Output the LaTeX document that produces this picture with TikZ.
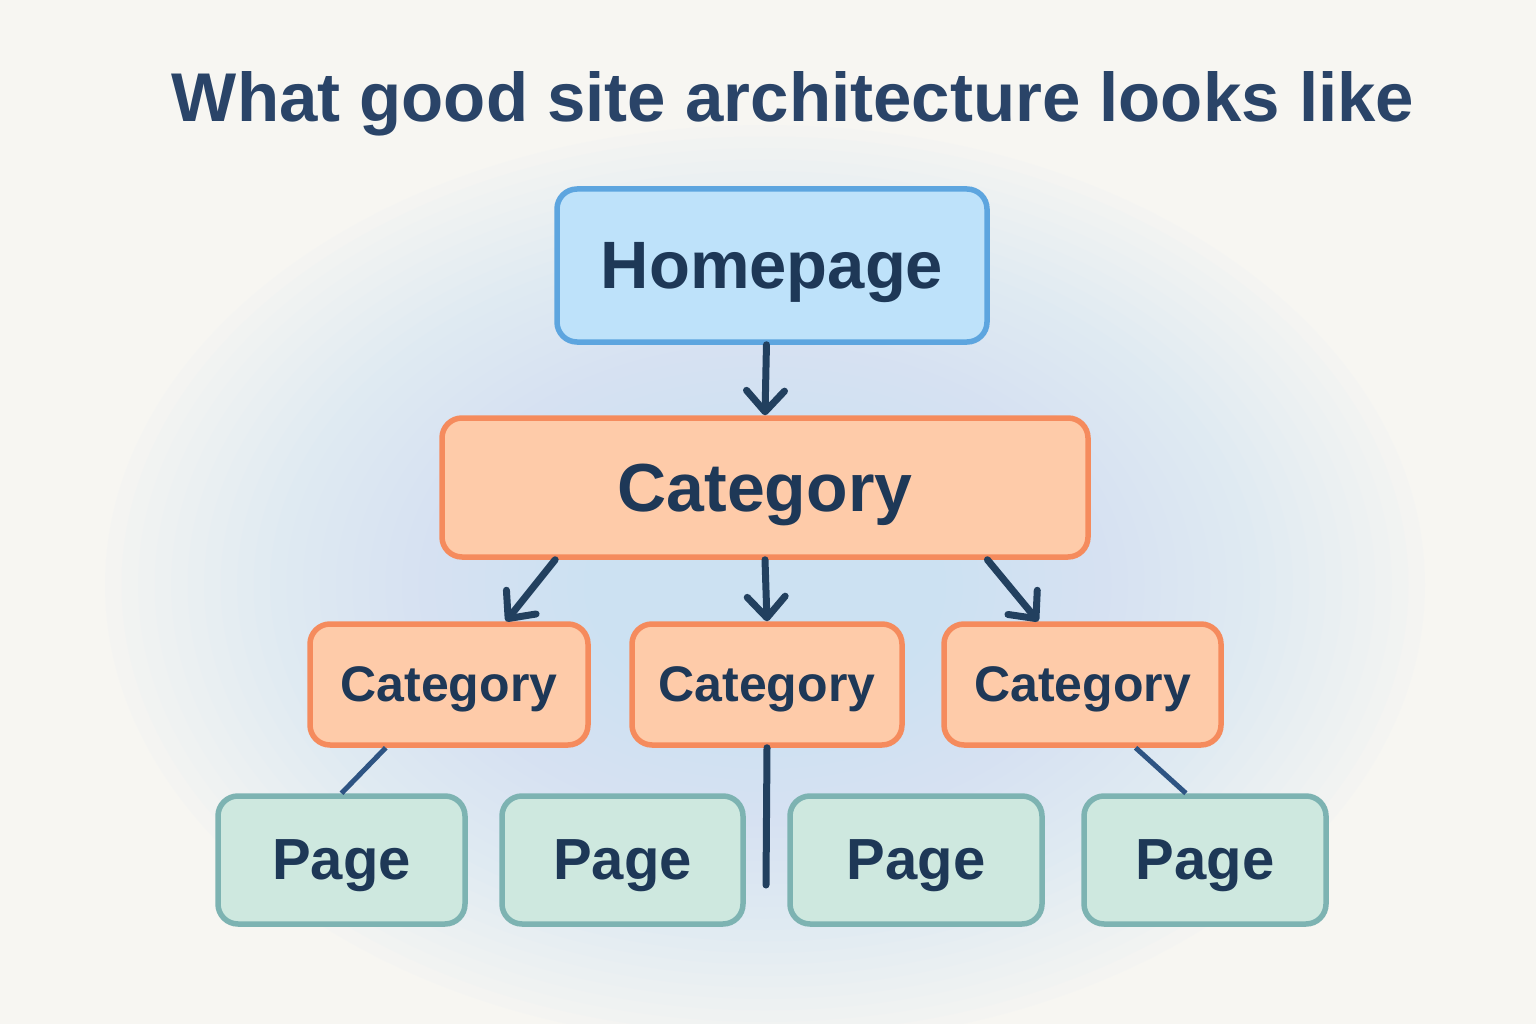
\documentclass[tikz,border=0pt]{standalone}
\usepackage{fontspec}
\setmainfont{Liberation Sans}
\usepackage{xcolor}
\usetikzlibrary{arrows.meta}

\definecolor{bgc}{HTML}{F7F6F2}
\definecolor{glowc}{HTML}{CCE1F3}
\definecolor{inkc}{HTML}{1E3857}
\definecolor{titlec}{HTML}{2A4468}
\definecolor{arrowc}{HTML}{22405F}
\definecolor{linkc}{HTML}{2E5483}
\definecolor{homefill}{HTML}{BEE2FA}
\definecolor{homedraw}{HTML}{5DA5DF}
\definecolor{catfill}{HTML}{FECBA9}
\definecolor{catdraw}{HTML}{F58B5D}
\definecolor{pagefill}{HTML}{CEE8DF}
\definecolor{pagedraw}{HTML}{7DB3B2}

\begin{document}
\begin{tikzpicture}[x=1pt, y=-1pt]
        % ================= 样式定义 =================
        \tikzset{
            % 所有方框的共同样式
            box/.style={draw, line width=5.5pt, rounded corners=20pt, text=inkc, text depth=0pt, inner sep=0pt},
            % 首页
            homebox/.style={box, draw=homedraw, fill=homefill, font=\bfseries\fontsize{67}{80}\selectfont, minimum width=430pt, minimum height=153pt},
            % 分类
            catbox/.style={box, draw=catdraw, fill=catfill, font=\bfseries\fontsize{68}{80}\selectfont, minimum width=646pt, minimum height=139pt},
            % 子分类
            subcat/.style={box, draw=catdraw, fill=catfill, font=\bfseries\fontsize{50}{60}\selectfont, minimum height=121pt},
            % 页面
            pagebox/.style={box, draw=pagedraw, fill=pagefill, font=\bfseries\fontsize{58}{70}\selectfont, minimum height=128pt},
            % 箭头
            arrow_edge/.style={line width=7pt, arrowc, line cap=round, -{Straight Barb[length=21pt, width=38pt, round]}},
            % 普通连线
            link_edge/.style={line width=5pt, linkc}
        }

        % ================= 1. 背景 =================
        \useasboundingbox (0,0) rectangle (1536,1024);
        \fill[bgc] (0,0) rectangle (1536,1024);
        % 蓝色光晕:一层层半透明椭圆
        \foreach \k in {1,...,40}
            \fill[glowc, opacity=0.05] (765,585) ellipse ({16.5*\k} and {11.5*\k});

        % ================= 2. 标题 =================
        \node[anchor=base, text=titlec, font=\bfseries\fontsize{69}{80}\selectfont] (title) at (793,122) {What good site architecture looks like};

        % ================= 3. 方框 =================
        \node[homebox] (home) at (772,265.5) {Homepage};
        \node[catbox] (cat) at (765,487.5) {Category};

        \node[subcat, minimum width=278pt] (lc) at (449,684.5) {Category};
        \node[subcat, minimum width=270pt] (mc) at (767,684.5) {Category};
        \node[subcat, minimum width=277pt] (rc) at (1082.5,684.5) {Category};

        \node[pagebox, minimum width=247pt] (p1) at (341.5,860) {Page};
        \node[pagebox, minimum width=241pt] (p2) at (622.5,860) {Page};
        \node[pagebox, minimum width=252pt] (p3) at (916,860) {Page};
        \node[pagebox, minimum width=242pt] (p4) at (1205,860) {Page};

        % ================= 4. 连线 =================
        \draw[arrow_edge] (home.266) -- (cat.north);

        \draw[arrow_edge] (cat.199) -- (lc.48);
        \draw[arrow_edge] (cat.south) -- (mc.north);
        \draw[arrow_edge] (cat.342) -- (rc.125);

        % --- 子分类到页面 ---
        \coordinate (mid_end) at (766,885);
        \draw[link_edge] (lc.225) -- (p1.north);
        \draw[line width=7pt, arrowc, line cap=round] (mc.south) -- (mid_end);
        \draw[link_edge] (rc.310) -- (p4.106);

    \end{tikzpicture}
\end{document}
